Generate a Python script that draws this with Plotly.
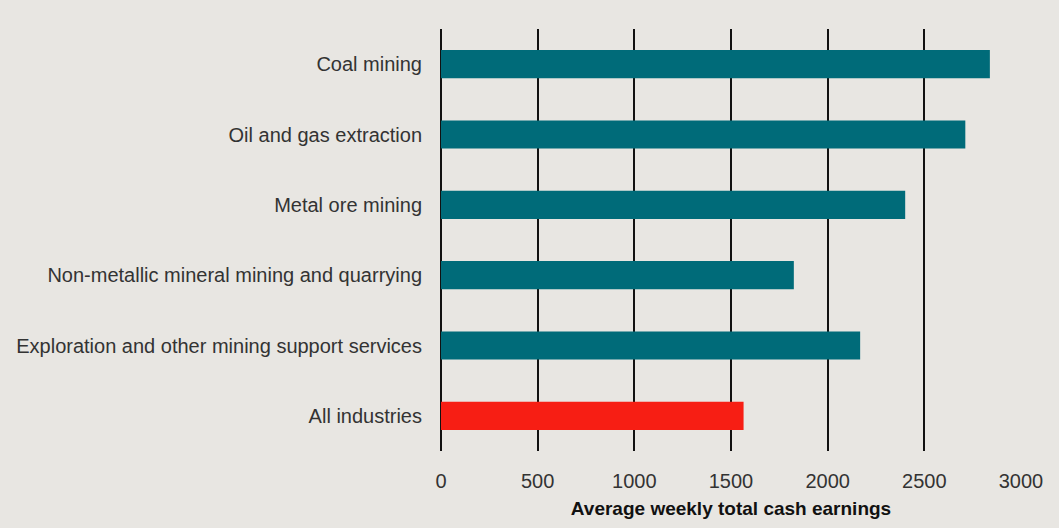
import plotly.graph_objects as go

# Industries listed top to bottom, with their average weekly total cash earnings
industries = [
    "Coal mining",
    "Oil and gas extraction",
    "Metal ore mining",
    "Non-metallic mineral mining and quarrying",
    "Exploration and other mining support services",
    "All industries",
]
earnings = [2839, 2712, 2401, 1825, 2168, 1565]
bar_colors = ["#006b79", "#006b79", "#006b79", "#006b79", "#006b79", "#f71e14"]

x_ticks = [0, 500, 1000, 1500, 2000, 2500, 3000]

bg = "#e8e6e2"
text_col = "#333333"
font_family = "Liberation Sans, Arial, sans-serif"

fig = go.Figure(
    go.Bar(
        x=earnings,
        y=industries,
        orientation="h",
        marker=dict(color=bar_colors, line=dict(width=0)),
        width=0.4,
    )
)

fig.update_layout(
    width=1059,
    height=528,
    paper_bgcolor=bg,
    plot_bgcolor=bg,
    margin=dict(l=441, r=38, t=29, b=77),
    showlegend=False,
    font=dict(family=font_family, color=text_col, size=20),
)

fig.update_xaxes(
    range=[0, 3000],
    tickvals=x_ticks,
    ticktext=[str(v) for v in x_ticks],
    showgrid=True,
    gridcolor="#111111",
    gridwidth=1.6,
    zeroline=True,
    zerolinecolor="#111111",
    zerolinewidth=1.6,
    showline=False,
    ticks="",
    ticklabelstandoff=16,
    tickfont=dict(size=20, color=text_col),
    title=dict(
        text="<b>Average weekly total cash earnings</b>",
        font=dict(size=19, color="#111111"),
        standoff=10,
    ),
)

fig.update_yaxes(
    categoryorder="array",
    categoryarray=industries[::-1],
    showgrid=False,
    zeroline=False,
    ticks="",
    ticklabelstandoff=18,
    tickfont=dict(size=20, color=text_col),
)

fig.write_html("out.html")
